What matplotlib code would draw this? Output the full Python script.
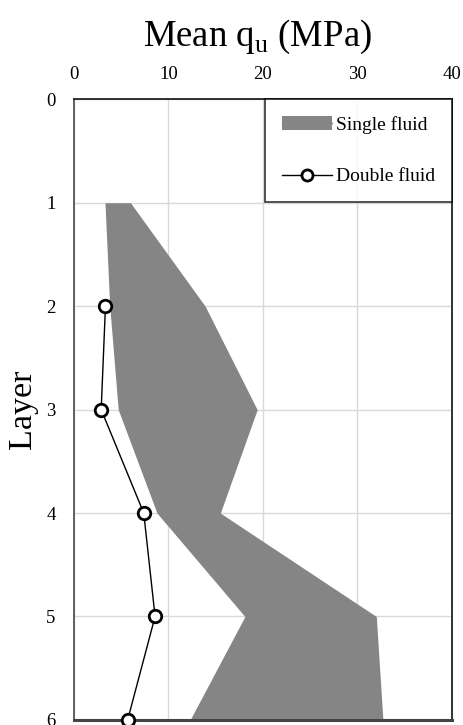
import matplotlib
matplotlib.use("Agg")
import matplotlib.pyplot as plt
from matplotlib.lines import Line2D
from matplotlib.patches import Patch

layers = [1, 2, 3, 4, 5, 6]
single_min = [3.3, 3.8, 4.7, 8.8, 18.1, 12.3]
single_max = [6.0, 13.9, 19.4, 15.5, 32.0, 32.7]
double_layers = [2, 3, 4, 5, 6]
double_vals = [3.35, 2.9, 7.4, 8.6, 5.7]
xticks = [0, 10, 20, 30, 40]
yticks = [0, 1, 2, 3, 4, 5, 6]

plt.rcParams['font.family'] = ['Liberation Serif', 'DejaVu Serif']

fig = plt.figure(figsize=(4.64, 7.25), dpi=100)
ax = fig.add_axes([0.159, 0.007, 0.815, 0.856])

ax.fill_betweenx(layers, single_min, single_max, color='#858585', lw=0, zorder=2)
ax.plot(double_vals, double_layers, color='black', lw=1, marker='o', ms=9,
        mfc='white', mec='black', mew=2, zorder=3, clip_on=False)

ax.set_xlim(0, 40)
ax.set_ylim(6, 0)
ax.set_xticks(xticks)
ax.set_yticks(yticks)
ax.xaxis.tick_top()
ax.tick_params(axis='both', length=0, labelsize=13.5)
ax.tick_params(axis='x', pad=12)
ax.tick_params(axis='y', pad=13)
ax.grid(True, color='#d9d9d9', lw=1, zorder=0)
ax.set_axisbelow(True)
for s in ['top', 'right']:
    ax.spines[s].set_color('#222222')
    ax.spines[s].set_linewidth(1.3)
ax.spines['bottom'].set_color('#444444')
ax.spines['bottom'].set_linewidth(2.2)
ax.spines['left'].set_color('#555555')
ax.spines['left'].set_linewidth(1.3)

ax.set_ylabel('Layer', fontsize=24.5, labelpad=6)
fig.text(0.556, 0.949, r'Mean q$_\mathregular{u}$ (MPa)', fontsize=26.5, ha='center', va='center')

handles = [
    (Patch(facecolor='#858585', edgecolor='none'), Line2D([], [], color='#858585', lw=1)),
    Line2D([], [], color='black', lw=1, marker='o', ms=8, mfc='white', mec='black', mew=2),
]
leg = ax.legend(handles, ['Single fluid', 'Double fluid'], loc='upper right',
                fontsize=14, frameon=True, fancybox=False, borderpad=0.85,
                labelspacing=1.75, handlelength=2.6, handletextpad=0.2,
                borderaxespad=0)
leg.get_frame().set_edgecolor('black')
leg.get_frame().set_linewidth(1.2)

fig.savefig('out.png', dpi=100)
